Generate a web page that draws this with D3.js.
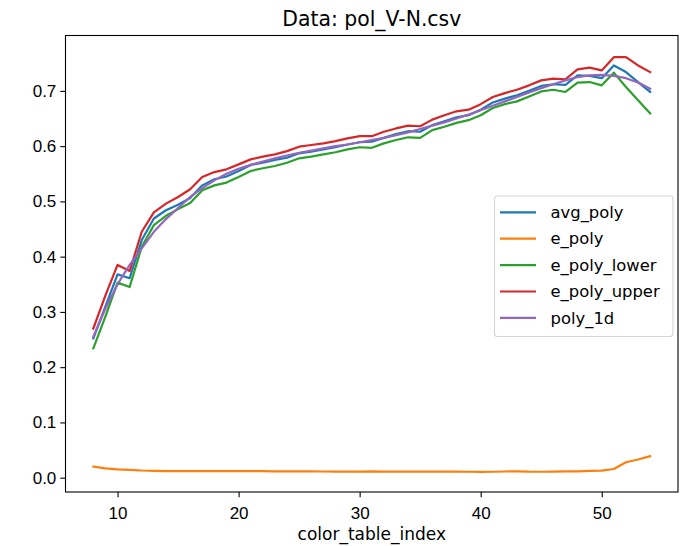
<!DOCTYPE html>
<html>
<head>
<meta charset="utf-8">
<script src="https://cdn.jsdelivr.net/npm/d3@7"></script>
<style>
  body { margin: 0; background: #fff; }
  svg { font-family: "DejaVu Sans", sans-serif; }
</style>
</head>
<body>
<div id="chart"></div>
<script>
// color_table_index values 8..54
const colorTableIndex = [8, 9, 10, 11, 12, 13, 14, 15, 16, 17, 18, 19, 20, 21, 22, 23, 24, 25, 26, 27, 28, 29, 30, 31,
    32, 33, 34, 35, 36, 37, 38, 39, 40, 41, 42, 43, 44, 45, 46, 47, 48, 49, 50, 51, 52, 53, 54];

const avgPoly = [0.252, 0.310, 0.368, 0.361, 0.430, 0.469, 0.484, 0.494, 0.506, 0.529, 0.540, 0.545, 0.555, 0.566,
    0.570, 0.575, 0.579, 0.587, 0.590, 0.594, 0.598, 0.603, 0.607, 0.608, 0.615, 0.622, 0.627, 0.626, 0.638, 0.645,
    0.652, 0.656, 0.666, 0.679, 0.686, 0.692, 0.700, 0.709, 0.712, 0.711, 0.728, 0.727, 0.723, 0.746, 0.734, 0.716, 0.698];

const ePoly = [0.020, 0.017, 0.015, 0.014, 0.013, 0.0125, 0.012, 0.012, 0.012, 0.012, 0.012, 0.012, 0.0118, 0.0117,
    0.0117, 0.0115, 0.0114, 0.0113, 0.0113, 0.0112, 0.0111, 0.0111, 0.011, 0.0113, 0.011, 0.0111, 0.0111, 0.011, 0.0108,
    0.0108, 0.0108, 0.0107, 0.0106, 0.0107, 0.0112, 0.0116, 0.0108, 0.0107, 0.0109, 0.0115, 0.0115, 0.0125, 0.0127,
    0.0157, 0.028, 0.033, 0.039];

const ePolyLower = [0.234, 0.292, 0.353, 0.345, 0.418, 0.457, 0.474, 0.486, 0.497, 0.520, 0.529, 0.534, 0.544, 0.555,
    0.560, 0.564, 0.570, 0.578, 0.581, 0.585, 0.589, 0.594, 0.598, 0.597, 0.605, 0.611, 0.616, 0.615, 0.629, 0.635,
    0.642, 0.647, 0.656, 0.669, 0.676, 0.681, 0.690, 0.699, 0.702, 0.698, 0.715, 0.716, 0.710, 0.733, 0.707, 0.683, 0.659];

const ePolyUpper = [0.270, 0.330, 0.385, 0.374, 0.445, 0.480, 0.496, 0.508, 0.522, 0.544, 0.553, 0.558, 0.567, 0.576,
    0.581, 0.585, 0.591, 0.599, 0.602, 0.605, 0.609, 0.614, 0.618, 0.618, 0.626, 0.632, 0.637, 0.636, 0.648, 0.656,
    0.663, 0.666, 0.676, 0.689, 0.696, 0.702, 0.710, 0.719, 0.722, 0.721, 0.739, 0.742, 0.737, 0.761, 0.761, 0.746, 0.734];

const poly1d = [0.255, 0.306, 0.350, 0.385, 0.415, 0.445, 0.468, 0.488, 0.508, 0.524, 0.538, 0.550, 0.559, 0.566,
    0.572, 0.578, 0.583, 0.588, 0.592, 0.596, 0.600, 0.603, 0.607, 0.611, 0.615, 0.620, 0.625, 0.631, 0.637, 0.643,
    0.650, 0.657, 0.665, 0.673, 0.681, 0.689, 0.697, 0.705, 0.712, 0.719, 0.725, 0.728, 0.729, 0.727, 0.723, 0.715, 0.704];

const seriesNames = ["avg_poly", "e_poly", "e_poly_lower", "e_poly_upper", "poly_1d"];
const seriesValues = [avgPoly, ePoly, ePolyLower, ePolyUpper, poly1d];
const seriesColors = ["#1f77b4", "#ff7f0e", "#2ca02c", "#d62728", "#9467bd"];

const xTicks = [10, 20, 30, 40, 50];
const yTicks = [0.0, 0.1, 0.2, 0.3, 0.4, 0.5, 0.6, 0.7];

const width = 684, height = 546;
const margin = { top: 35.5, right: 6, bottom: 54, left: 65.5 };
const innerW = width - margin.left - margin.right;
const innerH = height - margin.top - margin.bottom;

const svg = d3.select("#chart")
    .append("svg")
    .attr("width", width)
    .attr("height", height);

const g = svg.append("g")
    .attr("transform", "translate(" + margin.left + "," + margin.top + ")");

const x = d3.scaleLinear()
    .domain([5.7, 56.3])
    .range([0, innerW]);

const y = d3.scaleLinear()
    .domain([-0.0259, 0.8002])
    .range([innerH, 0]);

// lines
const line = d3.line()
    .x((d, i) => x(colorTableIndex[i]))
    .y(d => y(d));

g.append("g")
    .selectAll("path")
    .data(seriesValues)
    .enter()
    .append("path")
    .attr("d", d => line(d))
    .attr("fill", "none")
    .attr("stroke", (d, i) => seriesColors[i])
    .attr("stroke-width", 2.2)
    .attr("stroke-linejoin", "round")
    .attr("stroke-linecap", "square");

// axes
const xAxis = g.append("g")
    .attr("transform", "translate(0," + innerH + ")")
    .call(d3.axisBottom(x).tickValues(xTicks).tickSize(5.2).tickPadding(10).tickFormat(d3.format("d")));

const yAxis = g.append("g")
    .call(d3.axisLeft(y).tickValues(yTicks).tickSize(5.2).tickPadding(4).tickFormat(d3.format(".1f")));

[xAxis, yAxis].forEach(a => {
    a.select(".domain").remove();
    a.selectAll("line").attr("stroke", "#000").attr("stroke-width", 1.1);
    a.selectAll("text").style("font-size", "17px").attr("fill", "#000");
});

// frame
g.append("rect")
    .attr("x", 0)
    .attr("y", 0)
    .attr("width", innerW)
    .attr("height", innerH)
    .attr("fill", "none")
    .attr("stroke", "#000")
    .attr("stroke-width", 1.1);

// title
svg.append("text")
    .attr("x", margin.left + innerW / 2)
    .attr("y", 26)
    .attr("text-anchor", "middle")
    .style("font-size", "20.4px")
    .text("Data: pol_V-N.csv");

// x label
svg.append("text")
    .attr("x", margin.left + innerW / 2)
    .attr("y", 540)
    .attr("text-anchor", "middle")
    .style("font-size", "17px")
    .text("color_table_index");

// legend
const legend = svg.append("g")
    .attr("transform", "translate(494.5,196)");

legend.append("rect")
    .attr("width", 178.5)
    .attr("height", 140.5)
    .attr("rx", 3)
    .attr("fill", "#fff")
    .attr("fill-opacity", 0.8)
    .attr("stroke", "#d5d5d5")
    .attr("stroke-width", 1.1);

const items = legend.selectAll("g.item")
    .data(seriesNames)
    .enter()
    .append("g")
    .attr("class", "item")
    .attr("transform", (d, i) => "translate(0," + (16.3 + i * 26.4) + ")");

items.append("line")
    .attr("x1", 5.5)
    .attr("x2", 41.5)
    .attr("stroke", (d, i) => seriesColors[i])
    .attr("stroke-width", 2.2);

items.append("text")
    .attr("x", 56)
    .attr("dy", "0.35em")
    .style("font-size", "16.4px")
    .text(d => d);
</script>
</body>
</html>
